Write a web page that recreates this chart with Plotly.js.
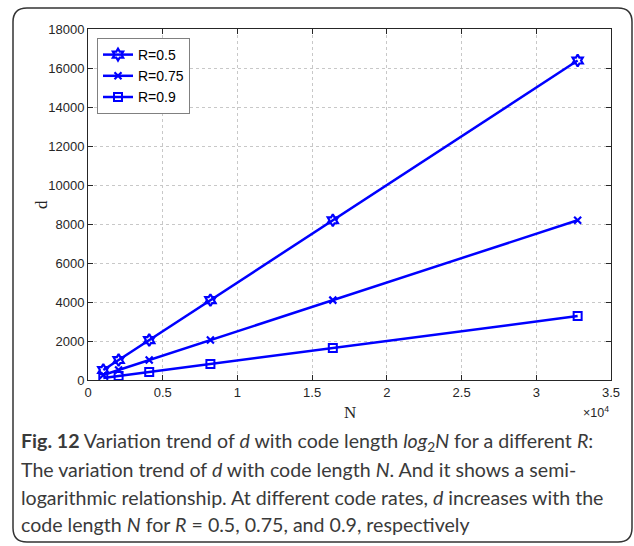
<!DOCTYPE html>
<html><head><meta charset="utf-8">
<script src="https://cdn.plot.ly/plotly-3.0.1.min.js"></script>
<style>html,body{margin:0;padding:0;background:#fff}</style>
</head><body><div id="chart" style="width:634px;height:546px"></div>
<script>
const N = [1024, 2048, 4096, 8192, 16384, 32768];
const d_R050 = [512, 1024, 2048, 4096, 8192, 16384];
const d_R075 = [256, 512, 1024, 2048, 4096, 8192];
const d_R090 = [102, 205, 410, 819, 1638, 3277];
const seriesNames = ['R=0.5', 'R=0.75', 'R=0.9'];
const xTickVals = [0, 5000, 10000, 15000, 20000, 25000, 30000, 35000];
const xTickText = ['0', '0.5', '1', '1.5', '2', '2.5', '3', '3.5'];
const yTickVals = [0, 2000, 4000, 6000, 8000, 10000, 12000, 14000, 16000, 18000];
const yTickText = ['0', '2000', '4000', '6000', '8000', '10000', '12000', '14000', '16000', '18000'];
const captionLines = [
  '<b>Fig. 12</b> Variation trend of <i>d</i> with code length <i>log</i><sub>2</sub><i>N</i> for a different <i>R</i>:',
  'The variation trend of <i>d</i> with code length <i>N</i>. And it shows a semi-',
  'logarithmic relationship. At different code rates, <i>d</i> increases with the',
  'code length <i>N</i> for <i>R</i> = 0.5, 0.75, and 0.9, respectively'
];

const blue = '#0000ff';
const mk = [
  {symbol: 'hexagram-open', size: 9, line: {width: 2.2, color: blue}, color: blue},
  {symbol: 'x-thin-open', size: 7, line: {width: 2.2, color: blue}, color: blue},
  {symbol: 'square-open', size: 8, line: {width: 2, color: blue}, color: blue}
];
const ys = [d_R050, d_R075, d_R090];
const traces = ys.map((y, i) => ({
  x: N, y: y, name: seriesNames[i], type: 'scatter', mode: 'lines+markers',
  line: {color: blue, width: 2.5}, marker: mk[i]
}));

const L = 88, R = 611, T = 29, B = 380, W = 634, H = 546;
const px = v => (v - L) / (R - L);
const py = v => (B - v) / (B - T);

const ann = captionLines.map((t, i) => ({
  xref: 'paper', yref: 'paper', x: px(19), y: py(442 + i * 27.5),
  xanchor: 'left', yanchor: 'middle', showarrow: false, align: 'left',
  text: t, font: {family: 'Lato, Open Sans, sans-serif', size: 19.6, color: '#3a3a3a'}
}));
ann.push({xref: 'paper', yref: 'paper', x: px(350), y: py(412), xanchor: 'center', yanchor: 'middle',
  showarrow: false, text: 'N', font: {family: 'Liberation Serif, serif', size: 17, color: '#262626'}});
ann.push({xref: 'paper', yref: 'paper', x: px(42), y: py(205), xanchor: 'center', yanchor: 'middle',
  showarrow: false, text: 'd', textangle: -90, font: {family: 'Liberation Serif, serif', size: 17, color: '#262626'}});
ann.push({xref: 'paper', yref: 'paper', x: px(581), y: py(412), xanchor: 'left', yanchor: 'middle',
  showarrow: false, text: '×10<sup>4</sup>', font: {family: 'Liberation Sans, Arial, sans-serif', size: 12.5, color: '#262626'}});

const x0 = 13, x1 = 632, y0 = 8, y1 = 542, r = 14;
const P = (x, y) => px(x) + ',' + py(y);
const path = 'M ' + P(x0, y0 + r) + ' Q ' + P(x0, y0) + ' ' + P(x0 + r, y0) +
  ' L ' + P(x1 - r, y0) + ' Q ' + P(x1, y0) + ' ' + P(x1, y0 + r) +
  ' L ' + P(x1, y1 - r) + ' Q ' + P(x1, y1) + ' ' + P(x1 - r, y1) +
  ' L ' + P(x0 + r, y1) + ' Q ' + P(x0, y1) + ' ' + P(x0, y1 - r) + ' Z';

const axisCommon = {
  showline: true, linecolor: '#262626', linewidth: 1, mirror: 'allticks',
  ticks: 'inside', ticklen: 5, tickcolor: '#262626', zeroline: false,
  showgrid: true, gridcolor: '#c8c8c8', griddash: 'dot', gridwidth: 1,
  tickfont: {family: 'Liberation Sans, Arial, sans-serif', size: 13, color: '#262626'}
};

const layout = {
  width: W, height: H, paper_bgcolor: '#fff', plot_bgcolor: '#fff',
  margin: {l: L, r: W - R, t: T, b: H - B, pad: 0},
  showlegend: true,
  legend: {x: px(97), y: py(38), xanchor: 'left', yanchor: 'top', bgcolor: '#fff',
    bordercolor: '#808080', borderwidth: 1, tracegroupgap: 0,
    font: {family: 'Liberation Sans, Arial, sans-serif', size: 14, color: '#000'}},
  xaxis: Object.assign({}, axisCommon, {range: [0, 35000], tickvals: xTickVals, ticktext: xTickText}),
  yaxis: Object.assign({}, axisCommon, {range: [0, 18000], tickvals: yTickVals, ticktext: yTickText}),
  annotations: ann,
  shapes: [{type: 'path', xref: 'paper', yref: 'paper', path: path, line: {color: '#333', width: 1.5}, layer: 'below'}]
};
Plotly.newPlot('chart', traces, layout, {displayModeBar: false, staticPlot: true});
</script></body></html>
